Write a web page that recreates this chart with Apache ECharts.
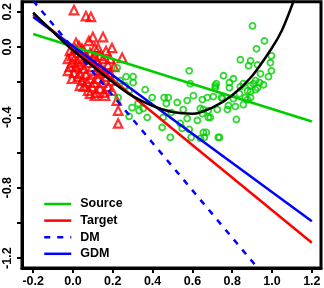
<!DOCTYPE html>
<html>
<head>
<meta charset="utf-8">
<script src="https://cdn.jsdelivr.net/npm/echarts@6/dist/echarts.min.js"></script>
<style>
html,body{margin:0;padding:0;background:#fff;}
#c{width:324px;height:288px;}
</style>
</head>
<body>
<div id="c"></div>
<script>
// Tick values
var xTicks = [-0.2, 0, 0.2, 0.4, 0.6, 0.8, 1.0, 1.2];
var yTicks = [0.2, 0, -0.2, -0.4, -0.6, -0.8, -1.0, -1.2];
var yLabels = [0.2, 0, -0.4, -0.8, -1.2];

// Target samples (red triangles): [x, y]
var targetPts = [
  [0.005,0.209],[0.065,0.175],[0.09,0.17],[0.10,0.056],[0.151,0.056],[0.015,0.023],[0.08,0.034],
  [0.126,-0.006],[0.196,-0.006],[0.247,-0.062],[0.035,-0.153],[0.11,-0.277],[0.161,-0.277],
  [0.227,-0.362],[0.227,-0.435],[0.22,-0.305],
  [-0.015,-0.023],[-0.005,-0.051],[0.01,-0.011],[0.025,-0.034],[0.035,-0.068],[0.055,-0.023],
  [0.065,-0.051],[0.086,-0.034],[0.106,-0.056],[0.12,-0.079],[0.136,-0.051],[0.151,-0.068],
  [-0.005,-0.09],[0.015,-0.113],[0.035,-0.102],[0.055,-0.124],[0.076,-0.09],[0.096,-0.113],
  [0.116,-0.136],[0.136,-0.113],[0.156,-0.136],[0.176,-0.102],[0.005,-0.147],[0.025,-0.169],
  [0.045,-0.192],[0.065,-0.158],[0.086,-0.181],[0.106,-0.203],[0.126,-0.181],[0.146,-0.203],
  [0.166,-0.169],[0.186,-0.147],[0.055,-0.226],[0.076,-0.249],[0.096,-0.226],[0.116,-0.26],
  [0.136,-0.237],[0.156,-0.26],[0.176,-0.226],[0.196,-0.192],[0.03,0.006],[0.11,-0.006],
  [0.166,-0.023],[0.186,-0.068],[0.207,-0.113],[-0.025,-0.068],[-0.015,-0.113],[0.196,-0.249],
  [-0.025,-0.136],[-0.005,-0.181],[0.035,-0.220],[0.086,-0.265],[0.045,-0.01],[0.095,-0.07],
  [0.07,-0.2],[0.13,-0.15],[0.02,-0.085]
];

// Source samples (green circles): [x, y]
var sourcePts = [
  [0.222,-0.119],[0.267,-0.169],[0.302,-0.169],[0.302,-0.203],[0.237,-0.192],[0.262,-0.220],
  [0.282,-0.249],[0.227,-0.288],[0.363,-0.243],[0.398,-0.288],[0.458,-0.288],[0.479,-0.288],
  [0.469,-0.322],[0.524,-0.316],[0.574,-0.305],[0.584,-0.136],[0.589,-0.209],[0.605,-0.277],
  [0.65,-0.299],[0.715,-0.220],[0.675,-0.288],[0.297,-0.345],[0.332,-0.362],[0.373,-0.401],
  [0.353,-0.350],[0.453,-0.401],[0.494,-0.373],[0.554,-0.356],[0.574,-0.407],[0.625,-0.418],
  [0.640,-0.350],[0.680,-0.401],[0.282,-0.395],[0.448,-0.458],[0.489,-0.514],[0.549,-0.463],
  [0.584,-0.469],[0.594,-0.514],[0.640,-0.520],[0.655,-0.486],[0.730,-0.514],[0.539,-0.435],
  [0.327,-0.322],[0.902,0.119],[0.962,0.034],[0.922,-0.011],[0.997,-0.051],[0.841,-0.073],
  [0.892,-0.079],[0.882,-0.107],[0.927,-0.102],[0.992,-0.090],[0.997,-0.136],[0.982,-0.169],
  [0.756,-0.164],[0.806,-0.181],[0.786,-0.203],[0.942,-0.153],[0.937,-0.203],[0.957,-0.215],
  [0.917,-0.192],[0.907,-0.209],[0.892,-0.220],[0.927,-0.232],[0.856,-0.209],[0.841,-0.226],
  [0.877,-0.249],[0.892,-0.254],[0.720,-0.209],[0.715,-0.232],[0.786,-0.232],[0.892,-0.288],
  [0.917,-0.243],[0.866,-0.288],[0.836,-0.266],[0.746,-0.288],[0.705,-0.282],[0.806,-0.294],
  [0.751,-0.294],[0.781,-0.333],[0.816,-0.339],[0.776,-0.356],[0.856,-0.328],[0.877,-0.299],
  [0.725,-0.356],[0.680,-0.362],[0.655,-0.356],[0.650,-0.379],[0.690,-0.401],[0.821,-0.412],
  [0.670,-0.486],[0.660,-0.514],[0.736,-0.514]
];

// Fitted lines: endpoints [x, y]
var sourceLine = [[-0.2, 0.073], [1.2, -0.424]];
var targetLine = [[-0.2, 0.183], [1.2, -1.113]];
var dmLine = [[-0.2, 0.262], [1.2, -1.622]];
var gdmLine = [[-0.2, 0.170], [1.2, -0.990]];

// Nonlinear (black) curve
var curveX = [-0.2, -0.1, 0, 0.1, 0.2, 0.3, 0.4, 0.5, 0.6, 0.7, 0.8, 0.9, 1.0, 1.05, 1.1, 1.15];
var curveY = [0.195, 0.085, -0.02, -0.11, -0.2, -0.28, -0.335, -0.37, -0.38, -0.345, -0.275, -0.165, -0.005, 0.095, 0.235, 0.39];

var GREEN = '#00CD00', RED = '#FF0000', BLUE = '#0000FF';
var FONT = 'Liberation Sans, Arial, sans-serif';

var curve = curveX.map(function (x, i) { return [x, curveY[i]]; });

var chart = echarts.init(document.getElementById('c'), null, {renderer: 'canvas'});
chart.setOption({
  animation: false,
  backgroundColor: '#fff',
  grid: {left: 22, top: 1, width: 299, height: 267, show: true, borderColor: '#000', borderWidth: 3, backgroundColor: 'transparent'},
  legend: {
    data: ['Source', 'Target', 'DM', 'GDM'],
    orient: 'vertical', left: 43, top: 197.5,
    itemWidth: 27, itemHeight: 12, itemGap: 3.6,
    padding: 0,
    itemStyle: {opacity: 0},
    lineStyle: {width: 2.5},
    textStyle: {fontSize: 12.5, fontWeight: 'bold', color: '#000', fontFamily: FONT, padding: [0, 0, 0, 4]}
  },
  xAxis: {
    type: 'value', min: -0.256, max: 1.246,
    axisLine: {show: true, onZero: false, lineStyle: {color: '#000', width: 3}},
    axisTick: {show: true, length: 5, lineStyle: {color: '#000', width: 2}, customValues: xTicks},
    axisLabel: {customValues: xTicks, formatter: function (v) { return (+v).toFixed(1); },
      fontSize: 12.5, fontWeight: 'bold', color: '#000', fontFamily: FONT, margin: 7},
    splitLine: {show: false}
  },
  yAxis: {
    type: 'value', min: -1.256, max: 0.256,
    axisLine: {show: true, onZero: false, lineStyle: {color: '#000', width: 3}},
    axisTick: {show: true, length: 5, lineStyle: {color: '#000', width: 2}, customValues: yTicks},
    axisLabel: {customValues: yLabels, rotate: 90, formatter: function (v) { return (+v).toFixed(1); },
      fontSize: 12.5, fontWeight: 'bold', color: '#000', fontFamily: FONT, margin: 8},
    splitLine: {show: false}
  },
  series: [
    {type: 'scatter', name: 'tpts', data: targetPts, symbol: 'triangle', symbolSize: 8.5,
      itemStyle: {color: 'rgba(0,0,0,0)', borderColor: RED, borderWidth: 2.2}, z: 2},
    {type: 'scatter', name: 'spts', data: sourcePts, symbol: 'circle', symbolSize: 6,
      itemStyle: {color: 'rgba(0,0,0,0)', borderColor: GREEN, borderWidth: 1.8}, z: 2},
    {type: 'line', name: 'Source', data: sourceLine, showSymbol: false, symbol: 'none',
      lineStyle: {color: GREEN, width: 2.5}, itemStyle: {color: GREEN}, z: 3},
    {type: 'line', name: 'Target', data: targetLine, showSymbol: false, symbol: 'none',
      lineStyle: {color: RED, width: 2.5}, itemStyle: {color: RED}, z: 3},
    {type: 'line', name: 'DM', data: dmLine, showSymbol: false, symbol: 'none', clip: true,
      lineStyle: {color: BLUE, width: 2.5, type: [6, 7]}, itemStyle: {color: BLUE}, z: 3},
    {type: 'line', name: 'GDM', data: gdmLine, showSymbol: false, symbol: 'none',
      lineStyle: {color: BLUE, width: 2.5}, itemStyle: {color: BLUE}, z: 3},
    {type: 'line', name: 'curve', data: curve, showSymbol: false, symbol: 'none', smooth: 0.3, clip: true,
      lineStyle: {color: '#000', width: 2.5}, z: 4}
  ]
});
</script>
</body>
</html>
